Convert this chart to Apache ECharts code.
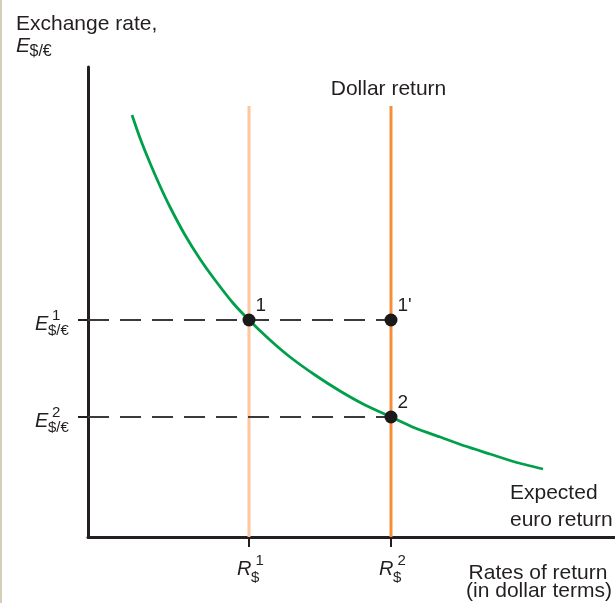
<!DOCTYPE html>
<html><head><meta charset="utf-8">
<script src="https://cdn.jsdelivr.net/npm/echarts@6/dist/echarts.min.js"></script>
<style>html,body{margin:0;padding:0;background:#fff}#c{width:615px;height:603px}</style>
</head><body><div id="c"></div>
<script>
// values, in axis units (arbitrary, no numeric labels in the figure)
const returnRates = [161, 303];          // R$^1, R$^2
const returnSup = ['1', '2'];
const exchangeRates = [217, 120];        // E$/€^1, E$/€^2
const exchangeSup = ['1', '2'];
const dollarReturnTop = 431;
const curveX = [44, 52, 62, 72, 82, 97, 112, 127, 145, 161, 182, 202, 227, 252, 277, 303, 327, 352, 377, 402, 427, 455];
const curveY = [422, 399, 374, 351, 330, 302, 278, 257, 234, 217, 197, 180, 162, 146, 132, 120, 109, 100, 91, 83, 75, 68];
const pointX = [161, 303, 303];
const pointY = [217, 217, 120];
const pointLabels = ['1', "1'", '2'];
const xMax = 527, yMax = 470;

const FONT = "'Liberation Sans', Arial, Helvetica, sans-serif";
const INK = '#231f20';

const chart = echarts.init(document.getElementById('c'), null, {renderer: 'canvas'});

const vline = (x, color) => ({
  type: 'line', data: [[x, 0], [x, dollarReturnTop]], symbol: 'none', silent: true,
  lineStyle: {color: color, width: 3}, z: 1
});
const hdash = (y) => ({
  type: 'line', data: [[0, y], [returnRates[1], y]], symbol: 'none', silent: true,
  lineStyle: {color: '#3a3a3a', width: 2, type: [21, 11], dashOffset: 0}, z: 2
});

chart.setOption({
  animation: false,
  backgroundColor: '#fff',
  grid: {left: 88, right: 0, top: 67, bottom: 66, containLabel: false},
  xAxis: {
    type: 'value', min: 0, max: xMax,
    axisLine: {show: true, onZero: false, lineStyle: {color: INK, width: 3}},
    axisTick: {show: true, customValues: returnRates, length: 10, lineStyle: {color: INK, width: 2}},
    axisLabel: {show: false}, splitLine: {show: false}
  },
  yAxis: {
    type: 'value', min: 0, max: yMax,
    axisLine: {show: true, onZero: false, lineStyle: {color: INK, width: 3}},
    axisTick: {show: true, customValues: exchangeRates, length: 10, lineStyle: {color: INK, width: 2}},
    axisLabel: {show: false}, splitLine: {show: false}
  },
  series: [
    vline(returnRates[0], '#fdc69c'),
    vline(returnRates[1], '#f58d3a'),
    hdash(exchangeRates[0]),
    hdash(exchangeRates[1]),
    {
      type: 'line', data: curveX.map((x, i) => [x, curveY[i]]), smooth: 0.2,
      symbol: 'none', silent: true, lineStyle: {color: '#00a04b', width: 2.8}, z: 3
    },
    {
      type: 'scatter', data: pointX.map((x, i) => [x, pointY[i]]), symbolSize: 13, silent: true,
      itemStyle: {color: '#1a1a1a', opacity: 1}, z: 5,
      label: {
        show: true, formatter: p => pointLabels[p.dataIndex], position: [13, -17],
        align: 'left', verticalAlign: 'top', fontSize: 19, fontFamily: FONT, color: INK
      }
    }
  ]
});

const px = (x, y) => chart.convertToPixel({gridIndex: 0}, [x, y]);
const txt = (text, x, y, size, opts) => ({
  type: 'text', x: x, y: y, silent: true,
  style: Object.assign({
    text: text, font: (opts && opts.italic ? 'italic ' : '') + size + 'px ' + FONT, fill: INK,
    align: 'left', verticalAlign: 'middle', textAlign: 'left', textVerticalAlign: 'middle'
  }, opts && opts.style)
});
const center = {align: 'center', textAlign: 'center'};

const g = [];
g.push({type: 'rect', shape: {x: 0, y: 0, width: 2, height: 603}, style: {fill: '#d8cdb9'}, silent: true});
// y-axis title
g.push(txt('Exchange rate,', 16, 24, 21));
g.push(txt('E', 16, 46, 21, {italic: true}));
g.push(txt('$/€', 29.5, 52, 16));
// x-axis title
g.push(txt('Rates of return', 538, 573.5, 21, {style: center}));
g.push(txt('(in dollar terms)', 539, 591, 21, {style: center}));
// curve names
const top2 = px(returnRates[1], dollarReturnTop);
g.push(txt('Dollar return', top2[0] - 2.5, 89, 21, {style: center}));
g.push(txt('Expected', 510, 493, 21));
g.push(txt('euro return', 510, 520, 21));
// x tick labels
returnRates.forEach((r, i) => {
  const p = px(r, 0);
  g.push(txt('R', p[0] - 12, p[1] + 32.5, 20, {italic: true}));
  g.push(txt('$', p[0] + 2, p[1] + 40.5, 15));
  g.push(txt(returnSup[i], p[0] + 6.5, p[1] + 24, 15));
});
// y tick labels
exchangeRates.forEach((e, i) => {
  const p = px(0, e);
  g.push(txt('E', p[0] - 53, p[1] + 4.3, 20, {italic: true}));
  g.push(txt(exchangeSup[i], p[0] - 36, p[1] - 4, 15));
  g.push(txt('$/€', p[0] - 40, p[1] + 11, 15));
});
chart.setOption({graphic: {elements: g}});
</script>
</body></html>
